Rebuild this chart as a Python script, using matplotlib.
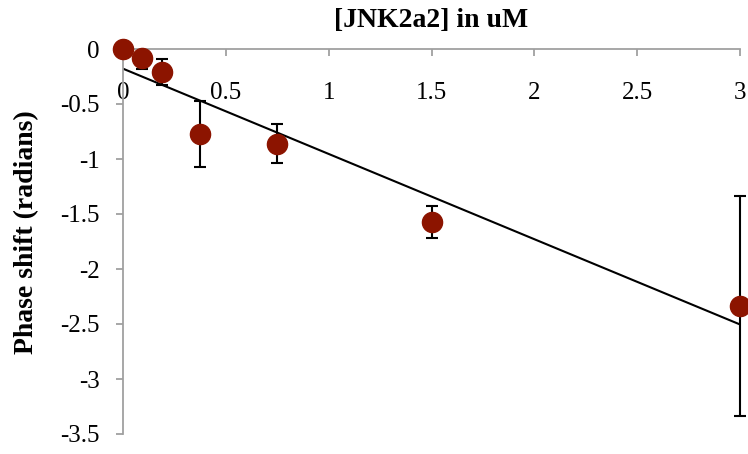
"""Phase shift vs [JNK2a2] concentration, Excel-style scatter with linear trend."""

import matplotlib

matplotlib.use("Agg")
import matplotlib.pyplot as plt
import numpy as np
from matplotlib.patches import Rectangle
from matplotlib.ticker import FuncFormatter, MultipleLocator

# data
conc_um = [0.0, 0.09375, 0.1875, 0.375, 0.75, 1.5, 3.0]
phase_shift = [0.0, -0.08, -0.21, -0.77, -0.86, -1.57, -2.34]
phase_err = [0.0, 0.10, 0.115, 0.30, 0.175, 0.145, 1.0]

plt.rcParams["font.family"] = ["Liberation Serif", "DejaVu Serif"]
plt.rcParams["axes.unicode_minus"] = False

W, H = 748, 454
fig = plt.figure(figsize=(W / 100, H / 100), dpi=100)
ax = fig.add_axes([123 / W, 1 - 434 / H, (740 - 123) / W, (434 - 49) / H])

axis_grey = "#a0a0a0"
marker_red = "#8c1400"

# linear trend line (least squares, as Excel draws it)
slope, intercept = np.polyfit(conc_um, phase_shift, 1)
xs = np.array([0.0, 3.0])
ax.plot(xs, slope * xs + intercept, color="black", lw=1.5, zorder=2)

eb = ax.errorbar(conc_um, phase_shift, yerr=phase_err, fmt="none", ecolor="black",
                 elinewidth=1.5, capsize=4.3, capthick=1.5, zorder=3)
# clip error bars only vertically (plot area), caps at the edges stay whole
clip = Rectangle((-0.05, 0), 1.1, 1, transform=ax.transAxes, visible=False)
ax.add_patch(clip)
for art in list(eb.lines[1]) + list(eb.lines[2]):
    art.set_clip_path(clip)

ax.plot(conc_um, phase_shift, "o", color=marker_red, ms=14.5, mec=marker_red,
        clip_on=False, zorder=4)

ax.set_xlim(0, 3)
ax.set_ylim(-3.5, 0)
ax.xaxis.set_major_locator(MultipleLocator(0.5))
ax.yaxis.set_major_locator(MultipleLocator(0.5))
fmt = FuncFormatter(lambda v, _: f"{v:g}")
ax.xaxis.set_major_formatter(fmt)
ax.yaxis.set_major_formatter(fmt)

# x axis sits at y = 0 (top edge), labels hang below it
ax.spines["bottom"].set_position(("data", 0))
ax.spines["top"].set_visible(False)
ax.spines["right"].set_visible(False)
for side in ("bottom", "left"):
    ax.spines[side].set_color(axis_grey)
    ax.spines[side].set_linewidth(1.3)
ax.tick_params(axis="x", direction="out", length=5, width=1.3, color=axis_grey,
               labelsize=18, pad=19)
ax.tick_params(axis="y", direction="out", length=5, width=1.3, color=axis_grey,
               labelsize=18, pad=12)

fig.text(431.5 / W, 1 - 27 / H, "[JNK2a2] in uM", ha="center", va="baseline",
         fontsize=20, fontweight="bold")
fig.text(27 / W, 1 - 232 / H, "Phase shift (radians)", ha="center", va="center",
         rotation=90, fontsize=20, fontweight="bold")

fig.savefig("out.png", dpi=100)
plt.close(fig)
